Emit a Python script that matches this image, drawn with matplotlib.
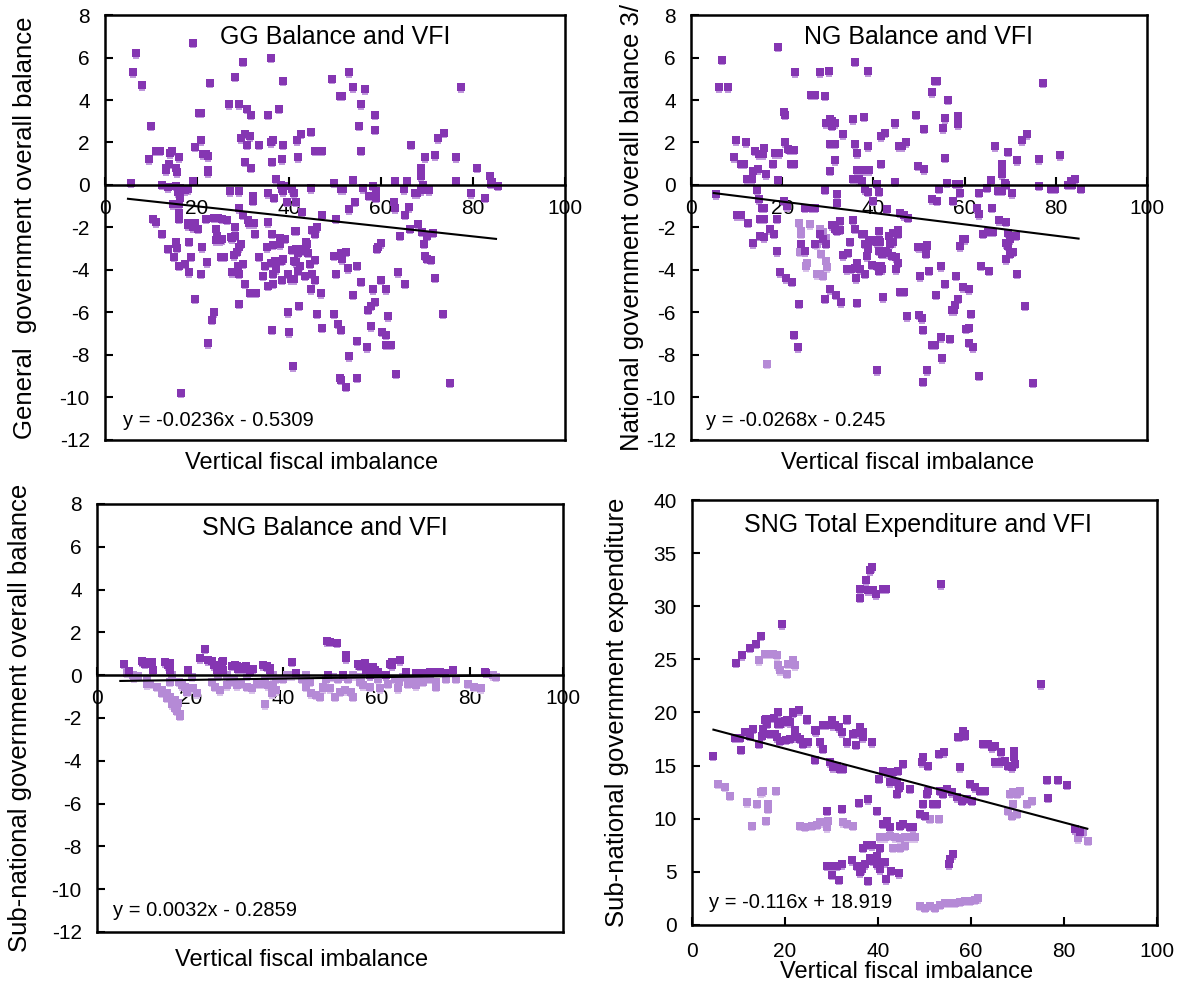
import matplotlib
matplotlib.use("Agg")
import matplotlib.pyplot as plt
import matplotlib.transforms as mtransforms
import numpy as np

plt.rcParams['font.family'] = ['Liberation Sans', 'DejaVu Sans']
plt.rcParams['axes.unicode_minus'] = False

# ---------------- data ----------------
x_ticks = [0, 20, 40, 60, 80, 100]
bal_ticks = [8, 6, 4, 2, 0, -2, -4, -6, -8, -10, -12]
exp_ticks = [0, 5, 10, 15, 20, 25, 30, 35, 40]

titles = ["GG Balance and VFI", "NG Balance and VFI", "SNG Balance and VFI",
          "SNG Total Expenditure and VFI"]
ylabels = ["General  government overall balance", "National government overall balance 3/",
           "Sub-national government overall balance", "Sub-national government expenditure"]
xlabel = "Vertical fiscal imbalance"
equations = ["y = -0.0236x - 0.5309", "y = -0.0268x - 0.245",
             "y = 0.0032x - 0.2859", "y = -0.116x + 18.919"]
slopes = [-0.0236, -0.0268, 0.0032, -0.116]
intercepts = [-0.5309, -0.245, -0.2859, 18.919]
fit_range = [(5, 85), (5, 85), (5, 84.5), (4.6, 85)]

gg_x = [5.7, 6.8, 6.1, 8.1, 9.9, 9.5, 11.2, 11.9, 12.3, 13.2, 13.2, 13.7, 14.0, 14.2, 14.5, 15.4, 15.7,
        16.2, 15.5, 16.3, 16.8, 15.8, 16.4, 16.0, 14.8, 18.0, 17.5, 19.1, 19.1, 19.6, 20.5, 20.9, 20.9,
        21.4, 21.9, 22.4, 22.3, 22.4, 22.8, 27.0, 27.1, 28.3, 29.2, 29.2, 30.1, 29.6, 30.5, 31.5, 30.9,
        30.9, 31.8, 30.5, 31.8, 32.1, 32.1, 33.4, 35.4, 35.5, 36.0, 36.0, 36.5, 36.4, 36.7, 37.2, 37.9,
        38.4, 38.8, 38.8, 38.3, 39.0, 38.8, 38.4, 39.6, 40.7, 41.1, 41.8, 42.0, 42.7, 41.6, 42.9, 44.7,
        44.7, 45.6, 46.5, 47.2, 47.2, 45.1, 46.0, 49.3, 49.8, 50.2, 51.1, 51.6, 51.2, 51.7, 53.1, 53.1,
        53.9, 54.0, 54.4, 55.2, 55.7, 55.7, 56.1, 56.6, 57.4, 58.2, 58.6, 58.6, 58.9, 58.9, 59.3, 62.9,
        63.1, 63.1, 65.0, 65.7, 66.1, 65.2, 66.6, 67.4, 67.9, 68.1, 66.4, 68.6, 68.7, 69.1, 68.7, 69.6,
        70.4, 69.0, 70.1, 71.2, 71.7, 72.5, 73.7, 76.3, 76.3, 77.4, 79.6, 80.8, 82.6, 83.6, 84.2, 84.0,
        85.4, 10.4, 11.0, 15.4, 16.2, 16.2, 18.0, 18.6, 19.2, 20.3, 19.6, 18.1, 22.0, 23.7, 24.6, 25.5,
        26.6, 24.1, 24.3, 25.0, 28.3, 27.6, 29.2, 29.9, 31.0, 31.4, 32.5, 35.5, 38.0, 41.4, 43.1,
        12.4, 13.7, 15.5, 15.7, 15.0, 16.2, 17.4, 18.2, 18.6, 18.2, 19.6, 20.8, 21.2, 22.1, 22.4, 23.2,
        23.7, 24.1, 25.2, 25.5, 25.9, 25.3, 27.4, 28.3, 28.1, 28.8, 29.2, 29.6, 29.0, 30.0, 27.7, 29.2,
        30.4, 29.2, 31.6, 32.8, 32.6, 33.4, 34.7, 34.3, 35.2, 36.5, 35.5, 36.5, 36.2, 36.9, 37.2, 36.5,
        36.4, 38.0, 38.3, 39.2, 38.7, 38.3, 38.4, 39.8, 36.4, 39.8, 40.1, 40.9, 40.7, 41.6, 42.0, 42.7,
        43.6, 44.2, 41.1, 41.6, 40.5, 41.1, 41.5, 42.2, 43.6, 44.0, 42.0, 42.3, 43.4, 44.5, 45.6, 44.9,
        45.6, 44.7, 45.6, 46.9, 46.1, 47.2, 49.8, 50.2, 49.8, 50.7, 51.3, 51.1, 51.4, 52.4, 53.1, 51.5,
        52.4, 51.3, 52.8, 53.9, 54.8, 54.8, 54.8, 55.7, 57.1, 57.9, 58.8, 57.9, 57.0, 58.2, 59.1, 59.9,
        59.9, 60.2, 61.1, 61.1, 61.5, 61.0, 62.1, 63.2, 63.7, 64.1, 65.3, 69.3, 69.6, 70.1, 70.8, 71.7,
        73.4, 75.0, 16.6]
gg_y = [0.1, 6.2, 5.3, 4.7, 2.8, 1.2, 1.6, 1.6, 0.0, 0.7, 0.8, -0.1, 1.0, 1.5, 1.6, 0.8, 0.6,
        1.3, -0.05, -0.15, -0.2, -0.35, -0.6, -0.9, -0.9, -0.2, -0.25, 0.2, 6.7, 1.8, 3.4, 3.4, 2.1,
        1.45, 1.45, 1.35, 0.7, 0.6, 4.8, 3.8, -0.3, 5.1, 3.8, -0.3, 5.8, 2.2, 2.4, 2.3, 3.6,
        1.9, 3.3, 1.1, 0.8, -0.5, -0.75, 1.9, -0.4, 3.3, 6.0, 2.0, 2.1, 1.1, -0.6, 0.3, 3.6,
        1.2, 4.9, 1.9, 0.0, -0.05, -0.3, -0.2, -0.8, -0.2, -0.4, 2.1, 1.3, 2.4, -0.8, -1.25, 2.5,
        -0.15, 1.6, 1.6, 1.6, -1.4, -2.1, -2.0, 5.0, 0.1, -1.6, 4.2, 4.2, -0.2, -0.2, 5.3, -1.15,
        4.6, 0.25, -0.8, 2.8, 1.6, 3.8, -0.15, 4.5, -0.5, -0.05, 3.3, 2.6, -0.3, -0.6, -2.9, -0.8,
        -1.1, 0.2, -0.2, 0.2, -1.05, -1.4, 1.9, -0.4, -0.4, -1.85, -2.05, 0.8, 0.4, 0.0, -0.25, 1.3,
        -0.25, -2.2, -2.4, -2.25, 1.4, 2.2, 2.45, 1.3, 0.2, 4.6, -0.4, 0.8, -0.6, 0.4, 0.15, 0.05,
        -0.05, -1.6, -1.75, -2.7, -1.6, -1.3, -1.9, -1.85, -2.0, -2.05, -1.8, -1.8, -1.6, -1.55, -1.55, -1.6,
        -1.65, -2.05, -2.4, -2.6, -2.0, -2.5, -1.1, -1.4, -1.65, -1.8, -1.8, -1.75, -2.5, -2.15, -3.0,
        -2.3, -3.0, -2.78, -2.97, -3.38, -3.8, -3.72, -2.66, -3.38, -4.11, -5.37, -4.19, -2.94, -3.64, -7.45, -6.35,
        -5.99, -2.6, -2.55, -2.55, -3.38, -3.38, -2.47, -2.39, -3.3, -3.15, -2.94, -2.78, -3.8, -3.72, -4.1, -4.19,
        -4.66, -5.6, -5.08, -5.08, -2.3, -3.38, -3.8, -4.27, -2.94, -2.82, -4.74, -4.66, -3.65, -3.57, -3.96, -4.19,
        -2.3, -2.8, -2.52, -2.52, -3.5, -3.57, -4.47, -4.19, -6.82, -5.99, -6.93, -8.53, -3.05, -3.02, -3.18, -3.1,
        -3.05, -3.18, -3.57, -3.64, -4.43, -4.43, -2.16, -5.68, -2.7, -2.78, -4.04, -3.8, -4.27, -3.72, -3.52, -4.19,
        -4.46, -4.9, -2.3, -5.1, -6.07, -6.73, -3.33, -4.19, -6.07, -6.54, -6.81, -9.1, -9.18, -9.51, -8.07, -3.5,
        -3.15, -3.2, -3.93, -5.18, -3.8, -7.34, -9.08, -4.55, -5.87, -5.68, -5.49, -6.65, -7.64, -4.9, -3.0, -2.74,
        -4.47, -6.9, -7.06, -4.9, -6.18, -7.53, -7.53, -8.89, -4.11, -2.39, -4.66, -2.78, -3.33, -3.46, -3.52, -4.38,
        -6.07, -9.31, -9.78]

ng_x = [5.5, 6.1, 8.2, 6.9, 9.8, 9.5, 12.0, 11.0, 11.6, 12.3, 13.4, 13.6, 14.8, 14.1, 15.0, 16.1, 15.7,
        16.5, 14.5, 15.0, 15.5, 16.0, 17.9, 18.5, 19.4, 19.0, 19.0, 20.3, 20.7, 20.7, 21.2, 21.8, 22.6,
        22.0, 22.5, 22.8, 20.3, 21.0, 25.0, 26.5, 27.2, 26.4, 27.2, 28.3, 29.3, 30.2, 29.3, 29.6, 30.5,
        31.0, 31.6, 30.9, 30.5, 31.5, 30.4, 31.6, 32.1, 32.1, 33.4, 35.5, 35.5, 35.9, 35.9, 36.4, 36.4,
        37.4, 38.5, 39.1, 36.8, 37.4, 37.9, 38.9, 38.9, 38.2, 38.9, 39.9, 40.8, 41.3, 41.7, 41.7, 42.6,
        44.7, 44.7, 45.7, 46.2, 47.2, 49.3, 49.7, 51.0, 51.0, 52.8, 53.5, 54.0, 55.3, 55.7, 55.7, 56.1,
        54.5, 52.8, 53.9, 56.4, 57.4, 58.1, 58.8, 58.6, 58.6, 59.0, 62.8, 63.1, 63.2, 65.0, 65.9, 66.1,
        66.6, 67.4, 68.1, 68.3, 68.3, 68.3, 68.9, 69.1, 69.6, 70.4, 67.6, 69.1, 71.6, 72.5, 73.7, 76.3,
        76.4, 77.1, 79.0, 79.8, 80.9, 82.7, 83.3, 84.2, 83.6, 85.6, 71.2, 64.1, 65.2, 66.3, 59.7, 69.6,
        69.9, 10.0, 11.0, 12.5, 15.2, 16.0, 15.2, 16.0, 13.7, 17.4, 18.3, 18.8, 30.9, 31.6, 32.6, 32.6,
        35.5, 36.0, 37.9, 39.1, 40.1, 41.3, 41.3, 43.0, 43.5, 44.4, 45.5, 45.8, 46.7, 47.7, 49.7, 51.8,
        18.8, 19.6, 20.9, 22.1, 23.8, 22.5, 23.4, 24.1, 25.0, 27.2, 28.3, 29.0, 29.6, 30.5, 29.3, 31.7,
        33.0, 32.0, 33.4, 34.5, 34.2, 35.0, 35.9, 37.1, 34.9, 36.2, 36.4, 36.4, 37.5, 38.2, 38.9, 38.5,
        38.2, 39.6, 40.7, 41.5, 41.3, 41.8, 42.8, 43.1, 43.7, 44.4, 39.6, 40.7, 41.7, 41.3, 42.0, 42.2,
        44.0, 44.9, 45.5, 44.9, 45.3, 45.8, 46.7, 47.3, 49.9, 49.9, 50.7, 50.2, 50.9, 50.9, 51.5, 51.8,
        51.8, 52.3, 52.8, 53.5, 53.7, 54.8, 54.8, 55.0, 55.7, 56.9, 57.2, 57.7, 57.9, 58.6, 58.1, 59.0,
        60.0, 59.7, 61.0, 60.3, 61.0, 61.0, 61.9, 61.5, 63.2, 63.7, 65.4, 69.0, 69.6, 69.0, 69.9, 70.7,
        71.6, 73.2, 75.0, 40.9]
ng_y = [-0.44, 4.6, 4.6, 5.9, 2.1, 1.3, 2.0, 1.0, 1.0, 0.27, 0.27, 0.67, 0.74, 1.6, 1.45, 1.75, 1.45,
        0.5, -0.23, -0.67, -1.06, -1.06, 1.0, 1.5, 1.5, 6.5, 0.23, 3.45, 3.3, 2.0, 1.7, 1.65, 1.65,
        1.0, 1.0, 5.3, -0.75, -1.0, -1.06, -1.06, -1.06, 4.25, 4.25, 5.3, 4.2, 5.35, -0.23, 2.9, 3.1,
        3.0, 2.9, 2.8, 1.95, 1.95, 0.66, 1.17, -0.44, -0.83, 2.38, 3.1, 0.3, 5.8, 1.95, 1.5, 0.7,
        0.7, 0.7, 0.7, 0.27, 0.2, 3.2, 5.35, 1.83, -0.2, -0.33, -0.75, 0.06, -0.33, 1.0, 2.3, 2.45,
        2.9, 0.14, 1.83, 1.83, 2.0, 3.3, 0.9, 0.74, 2.65, 4.37, 4.9, 4.9, 2.66, 3.13, 1.28, 0.1,
        -0.17, -0.67, -0.75, 4.0, -0.75, 0.06, 0.06, 3.27, 2.85, -0.36, -1.1, -1.38, -0.36, -0.13, 0.22, -1.06,
        1.83, -0.28, -0.28, 0.97, 0.74, 0.5, 0.1, 0.0, 1.56, -0.4, -1.66, -1.74, 1.17, 2.1, 2.38, 1.2,
        -0.05, 4.8, -0.17, -0.17, 1.4, 0.0, 0.2, 0.27, 0.0, -0.17, -2.4, -2.3, -2.2, -2.2, -2.55, -2.25,
        -2.55, -1.42, -1.42, -1.77, -1.6, -1.6, -2.4, -2.47, -2.75, -2.08, -2.3, -1.6, -1.9, -2.05, -2.1, -1.7,
        -1.64, -2.05, -2.3, -2.6, -2.6, -2.15, -2.6, -1.14, -2.4, -2.25, -2.1, -1.3, -1.43, -1.53, -2.9, -2.83,
        -3.13, -4.1, -4.4, -4.55, -5.6, -7.06, -7.64, -2.78, -3.13, -2.78, -2.31, -2.55, -2.78, -4.9, -5.37, -5.18,
        -5.52, -2.16, -3.3, -3.2, -3.97, -3.95, -3.9, -3.97, -2.67, -4.4, -3.65, -5.55, -2.31, -2.78, -3.02, -3.36,
        -4.19, -2.63, -2.7, -2.67, -3.1, -3.25, -3.1, -3.21, -2.78, -2.7, -3.77, -3.8, -3.8, -4.04, -3.96, -5.29,
        -3.33, -3.41, -3.65, -3.96, -2.31, -5.02, -5.02, -6.18, -2.94, -6.12, -6.27, -4.3, -6.81, -9.25, -3.25, -2.86,
        -8.73, -4.04, -7.53, -7.53, -5.18, -3.83, -7.17, -8.15, -4.66, -7.24, -5.9, -5.9, -5.65, -5.37, -4.27, -2.89,
        -2.55, -4.82, -4.9, -6.78, -6.73, -7.43, -7.64, -6.07, -8.97, -3.8, -4.04, -2.74, -2.86, -3.49, -3.25, -3.14,
        -4.19, -5.68, -9.31, -8.73]
ng_light_x = [23.6, 24.1, 26.0, 28.3, 29.0, 29.6, 27.6, 16.6, 24.1, 24.1, 24.0, 25.4, 25.3,
              27.6, 28.3, 29.0, 29.6, 29.8, 28.5]
ng_light_y = [-1.77, -2.2, -1.85, -2.08, -2.2, -2.5, -2.8, -8.42, -2.16, -2.31, -3.15, -3.65, -3.83,
              -4.2, -4.2, -4.27, -3.6, -3.88, -3.25]

sng_x = [5.7, 6.8, 9.8, 10.3, 11.8, 12.1, 14.6, 15.3, 15.7, 19.6, 23.2, 22.1, 23.9, 25.0, 25.7, 26.8,
         27.1, 29.6, 30.3, 31.4, 32.8, 33.5, 35.7, 36.4, 37.1, 41.8, 49.9, 49.3, 51.5, 53.5, 53.4, 56.0,
         56.4, 57.8, 59.6, 60.3, 62.8, 63.2, 65.0, 66.4, 68.5, 70.0, 71.4, 72.4, 73.5, 74.6, 76.4, 83.5,
         9.6, 10.7, 11.8, 14.6, 15.7, 24.6, 27.1, 29.0, 30.0, 31.0, 32.0, 36.4, 37.1, 56.0, 57.5, 59.3,
         63.2, 76.4, 83.2, 42.8, 52.8, 58.5, 62.1, 49.6]
sng_y = [0.54, 0.19, 0.62, 0.54, 0.54, 0.26, 0.62, 0.47, 0.23, 0.23, 1.24, 0.78, 0.70, 0.47, 0.23, 0.62,
         0.23, 0.47, 0.31, 0.31, 0.16, 0.31, 0.47, 0.39, 0.23, 0.62, 1.55, 1.58, 1.52, 0.93, 0.78, 0.54,
         0.43, 0.23, 0.23, 0.16, 0.54, 0.47, 0.70, 0.16, 0.08, 0.08, 0.16, 0.16, 0.16, 0.08, 0.23, 0.11,
         0.65, 0.62, 0.6, 0.6, 0.55, 0.67, 0.67, 0.45, 0.42, 0.4, 0.45, 0.45, 0.35, 0.5, 0.55, 0.4,
         0.62, 0.26, 0.15, 0.08, 0.0, 0.0, 0.0, 0.0]
sng_light_x = [7.8, 8.9, 10.7, 11.4, 12.8, 13.9, 16.1, 15.7, 15.0, 15.7, 16.8, 17.3, 17.5, 18.2, 18.9,
               19.3, 20.3, 20.7, 21.4, 26.0, 27.8, 24.6, 25.3, 26.4, 27.8, 28.5, 32.1, 29.3, 30.0, 31.0,
               32.1, 33.2, 34.3, 37.8, 38.5, 36.0, 35.3, 36.8, 37.8, 38.5, 37.5, 40.0, 40.7, 41.8, 43.9,
               44.9, 45.7, 44.9, 46.0, 47.1, 47.8, 48.5, 49.2, 16.1, 16.8, 17.9, 17.9, 17.1, 15.0, 13.9,
               10.7, 36.1, 50.7, 51.7, 53.9, 54.9, 56.7, 58.5, 60.3, 63.9, 65.7, 67.4, 69.2, 71.4, 72.8,
               74.9, 77.1, 48.5, 49.9, 51.0, 52.1, 53.2, 54.6, 55.0, 56.4, 57.1, 58.5, 60.7, 62.4, 64.6,
               64.9, 66.7, 68.5, 70.0, 72.8, 79.6, 81.0, 82.4, 85.6, 84.9, 6.4, 8.0]
sng_light_y = [0.03, -0.03, -0.23, -0.39, -0.54, -0.70, 0.0, -0.31, -0.85, -1.0, -1.16, -1.32, -0.31, -0.47,
               -0.54, -0.78, -0.08, -0.62, -0.85, 0.0, 0.0, -0.31, -0.54, -0.70, -0.47, -0.31, 0.0, -0.16,
               -0.47, -0.39, -0.54, -0.62, -0.39, 0.0, -0.16, -0.16, -0.39, -0.47, -0.54, -0.70, -0.85,
               -0.16, 0.0, 0.0, -0.16, 0.0, -0.31, -0.54, -0.85, -0.93, -1.0, -0.62, -0.16, -1.36, -1.52,
               -1.8, -1.9, -1.67, -1.05, -0.82, -0.43, -1.36, -0.08, -0.16, -0.16, 0.0, -0.08, 0.0, -0.16,
               -0.16, -0.08, -0.16, -0.23, -0.16, -0.31, -0.16, -0.16, -0.54, -0.62, -1.0, -0.78, -0.70,
               -0.78, -1.0, -0.31, -0.47, -0.54, -0.62, -0.39, -0.62, -0.31, -0.39, -0.47, -0.31, -0.54,
               -0.39, -0.54, -0.62, -0.08, 0.0, 0.1, -0.1]

exp_x = [38.64, 38.28, 37.42, 36.13, 36.13, 37.92, 38.85, 39.57, 41.15, 41.72, 53.62, 19.28, 14.84,
         13.76, 12.47, 10.68, 9.46, 74.98, 18.57, 21.79, 23.08, 17.71, 15.70, 15.34, 13.05, 11.40, 24.66,
         18.93, 20.36, 21.08, 22.15, 26.45, 28.24, 30.04, 30.40, 31.68, 33.26, 35.27, 36.13, 36.85,
         57.28, 58.35, 58.71, 4.59, 9.25, 10.32, 10.54, 11.40, 12.47, 13.05, 14.48, 14.98, 15.34, 15.91,
         16.20, 16.77, 17.85, 18.35, 18.93, 18.57, 19.28, 20.00, 20.72, 20.22, 21.08, 21.79, 22.15, 22.51,
         23.08, 23.23, 23.80, 24.30, 24.66, 25.02, 26.45, 26.67, 27.53, 28.10, 28.10, 28.75, 29.68,
         30.04, 30.40, 30.75, 31.11, 32.19, 32.55, 31.83, 33.41, 33.41, 34.70, 35.27, 36.13, 36.70,
         36.70, 38.78, 40.29, 41.15, 41.86, 42.58, 43.30, 44.02, 44.37, 44.73, 45.45, 46.88, 44.02,
         44.59, 49.39, 49.75, 50.83, 53.19, 54.27, 57.64, 57.49, 58.21, 58.71, 62.51, 63.73, 64.45,
         65.16, 66.38, 65.16, 66.24, 67.31, 68.03, 68.75, 69.25, 69.25, 69.46, 76.27, 78.78, 80.57,
         76.49, 28.96, 32.19, 35.91, 37.92, 39.86, 41.00, 41.86, 42.58, 44.73, 45.45, 46.88, 47.60,
         36.85, 37.56, 38.64, 40.43, 39.71, 40.79, 41.51, 38.28, 38.99, 28.96, 30.04, 31.11, 32.19,
         30.04, 31.68, 34.34, 35.41, 36.49, 36.13, 37.20, 37.92, 39.71, 40.43, 42.80, 44.45, 41.72,
         49.03, 50.11, 49.75, 50.47, 51.90, 52.62, 54.05, 50.83, 53.33, 54.77, 55.84, 56.92, 57.99,
         59.07, 59.79, 60.86, 61.94, 63.01, 60.14, 55.49, 56.06, 55.34, 82.37, 83.44]
exp_y = [33.65, 33.40, 32.46, 31.67, 30.82, 31.51, 31.51, 31.14, 31.67, 31.67, 32.05, 28.32, 27.21,
         26.48, 26.07, 25.38, 24.66, 22.65, 20.03, 19.97, 20.19, 19.50, 19.25, 18.46, 18.46, 18.15, 19.31,
         18.93, 19.25, 19.09, 18.37, 18.31, 18.87, 19.25, 18.78, 18.62, 19.31, 18.05, 18.62, 18.08,
         17.74, 18.24, 17.83, 15.94, 17.61, 17.61, 16.48, 18.14, 17.83, 18.46, 17.04, 17.83, 18.46, 19.40,
         18.93, 17.99, 17.99, 17.67, 17.36, 18.93, 19.09, 19.18, 19.18, 17.42, 17.51, 20.03, 18.24, 17.67,
         20.19, 17.51, 17.04, 17.20, 19.40, 17.20, 15.53, 18.24, 17.20, 16.57, 18.87, 18.87, 15.31,
         19.09, 14.84, 18.87, 15.00, 18.14, 14.68, 14.68, 19.40, 17.20, 17.99, 16.98, 18.68, 18.14,
         17.67, 17.20, 13.74, 14.53, 14.37, 13.43, 14.37, 13.43, 14.53, 13.11, 15.16, 12.80, 12.32,
         12.89, 15.31, 15.78, 15.00, 16.10, 16.26, 14.84, 17.73, 18.14, 17.99, 17.04, 17.04, 16.73,
         16.88, 16.26, 15.31, 15.31, 15.47, 15.00, 14.84, 16.41, 15.78, 15.16, 13.68, 13.68, 13.17,
         11.95, 10.75, 10.91, 11.48, 11.82, 10.75, 9.50, 9.81, 9.18, 9.34, 9.50, 9.24, 9.18,
         7.29, 7.55, 7.51, 7.29, 6.51, 5.88, 5.88, 6.35, 6.04, 5.56, 5.56, 5.56, 5.72,
         4.72, 4.24, 6.10, 5.56, 5.25, 4.94, 5.72, 4.15, 5.72, 5.25, 5.09, 4.87, 4.31,
         10.44, 10.28, 11.38, 12.32, 11.38, 11.38, 12.32, 12.64, 12.64, 12.80, 12.48, 12.01, 11.70,
         11.85, 13.27, 12.95, 12.64, 12.64, 11.70, 6.19, 6.66, 5.72, 9.02, 8.71]
exp_light_x = [14.48, 15.70, 16.42, 17.49, 18.21, 18.57, 18.93, 20.36, 20.72, 21.79, 22.15, 5.66, 7.10,
               8.17, 11.76, 13.91, 14.77, 15.34, 16.42, 16.42, 15.91, 18.06, 12.83, 23.23, 24.30, 25.73,
               26.81, 27.53, 29.32, 28.96, 32.55, 33.26, 34.55, 40.43, 41.51, 42.58, 43.66, 44.73, 45.81,
               46.88, 47.96, 43.30, 44.73, 45.81, 51.18, 53.19, 68.39, 69.11, 69.82, 70.54, 68.03, 68.75,
               69.82, 69.11, 71.97, 73.05, 49.03, 50.11, 51.18, 52.26, 53.33, 54.41, 55.49, 56.56, 57.64,
               58.71, 59.79, 60.86, 61.58, 84.16, 83.08, 85.23]
exp_light_y = [24.91, 25.54, 25.54, 25.54, 25.38, 24.44, 23.97, 23.65, 24.59, 24.91, 24.44, 13.27, 13.02,
               12.17, 11.54, 11.38, 12.48, 12.58, 11.38, 10.91, 9.81, 12.64, 9.34, 9.34, 9.24, 9.34,
               9.43, 9.65, 9.81, 9.18, 9.65, 9.50, 9.34, 8.24, 8.24, 8.39, 8.24, 8.17, 8.24,
               8.24, 8.24, 7.29, 7.29, 7.45, 9.97, 9.97, 12.32, 12.48, 12.32, 12.64, 10.75, 10.28,
               10.44, 11.38, 11.38, 11.70, 1.79, 1.63, 1.79, 1.63, 1.88, 2.10, 2.10, 2.10, 2.20,
               2.26, 2.26, 2.36, 2.51, 8.71, 8.17, 7.92]

# ---------------- drawing ----------------
DARK = '#8536B2'
DARK_TAIL = '#BE95DB'
LIGHT = '#B58AD6'
LIGHT_TAIL = '#D9C2EA'
MS = 27
TITLE_FS = 18
XLAB_FS = 17
YLAB_FS = 18.5
TICK = 15

fig = plt.figure(figsize=(11.86, 9.88), dpi=100)
rects = [[0.0885, 0.5547, 0.3879, 0.4301],
         [0.5826, 0.5547, 0.3845, 0.4301],
         [0.0818, 0.0567, 0.3929, 0.4332],
         [0.5835, 0.0638, 0.3921, 0.4301]]
axes = [fig.add_axes(r) for r in rects]


def pts(ax, xs, ys, col, tail):
    off = mtransforms.offset_copy(ax.transData, fig=fig, x=0, y=-2.4, units='dots')
    ax.scatter(xs, ys, s=MS * 0.55, marker='s', color=tail, linewidths=0, transform=off, zorder=2)
    ax.scatter(xs, ys, s=MS, marker='s', color=col, linewidths=0, zorder=3)


series = [([gg_x], [gg_y], [], []),
          ([ng_x], [ng_y], [ng_light_x], [ng_light_y]),
          ([sng_x], [sng_y], [sng_light_x], [sng_light_y]),
          ([exp_x], [exp_y], [exp_light_x], [exp_light_y])]

title_pos = [(0.5, 0.948), (0.5, 0.948), (0.489, 0.944), (0.486, 0.941)]
eq_pos = [(0.039, 0.045), (0.033, 0.045), (0.034, 0.051), (0.037, 0.052)]
xlab_pos = [(0.448, -0.054), (0.474, -0.054), (0.44, -0.065), (0.462, -0.11)]
ylab_x = [-0.148, -0.102, -0.139, -0.135]

for i, ax in enumerate(axes):
    dx, dy, lx, ly = series[i]
    if lx:
        pts(ax, lx[0], ly[0], LIGHT, LIGHT_TAIL)
    pts(ax, dx[0], dy[0], DARK, DARK_TAIL)

    x0, x1 = fit_range[i]
    xx = np.array([x0, x1])
    ax.plot(xx, slopes[i] * xx + intercepts[i], color='black', lw=1.5, zorder=4)

    ax.set_xlim(0, 100)
    ax.set_xticks(x_ticks)
    if i < 3:
        ax.set_ylim(-12, 8)
        ax.set_yticks(bal_ticks)
        ax.spines['bottom'].set_position(('data', 0))
        ax.spines['bottom'].set_linewidth(1.8)
        ax.spines['bottom'].set_zorder(5)
        ax.plot([0, 1], [0, 0], transform=ax.transAxes, color='black', lw=1.8,
                clip_on=False, zorder=5)
        ax.tick_params(axis='x', direction='in', length=6, width=1.5, pad=10, labelsize=TICK)
    else:
        ax.set_ylim(0, 40)
        ax.set_yticks(exp_ticks)
        ax.tick_params(axis='x', direction='in', length=6, width=1.5, pad=12, labelsize=TICK)
    ax.tick_params(axis='y', direction='in', length=6, width=1.5, pad=11, labelsize=TICK)
    for s in ['left', 'right', 'top']:
        ax.spines[s].set_linewidth(1.8)
    if i >= 3:
        ax.spines['bottom'].set_linewidth(1.8)

    ax.text(title_pos[i][0], title_pos[i][1], titles[i], transform=ax.transAxes,
            ha='center', va='center', fontsize=TITLE_FS)
    ax.text(eq_pos[i][0], eq_pos[i][1], equations[i], transform=ax.transAxes,
            ha='left', va='center', fontsize=14.5)
    ax.text(xlab_pos[i][0], xlab_pos[i][1], xlabel, transform=ax.transAxes,
            ha='center', va='center', fontsize=XLAB_FS)
    ax.set_ylabel(ylabels[i], fontsize=YLAB_FS)
    ax.yaxis.set_label_coords(ylab_x[i], 0.5)

fig.savefig('out.png', dpi=100)
